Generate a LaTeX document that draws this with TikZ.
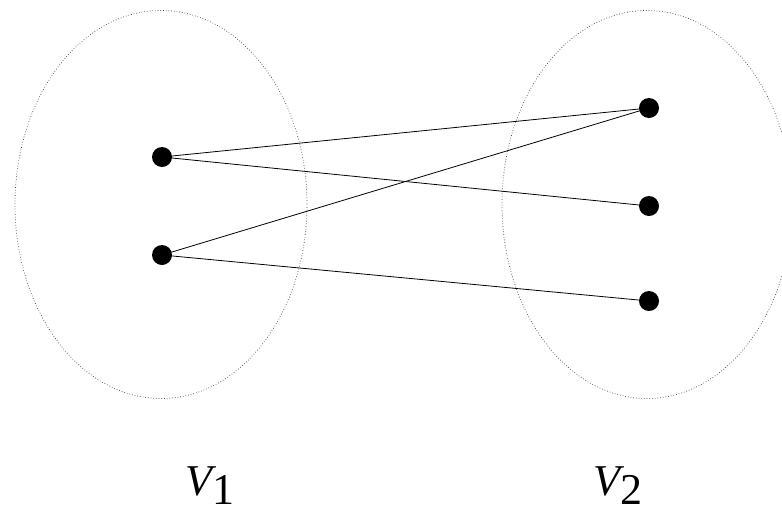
\documentclass[tikz,border=0pt]{standalone}
\usepackage{fontspec}
\newfontfamily\tms{Liberation Serif}
\newfontfamily\tmsit{Liberation Serif Italic}
\begin{document}
\begin{tikzpicture}[x=1pt,y=-1pt,
  vdot/.style={circle,fill=black,draw=none,inner sep=0pt,minimum size=20pt},
  setell/.style={draw=black!75,dotted,line width=0.7pt},
  edge/.style={draw=black,line width=0.8pt},
  lab/.style={anchor=base west,inner sep=0pt,font=\fontsize{44}{50}\selectfont}]
\useasboundingbox (0,0) rectangle (782,512);
\clip (0,0) rectangle (782,512);
\draw[setell] (161,204.5) ellipse [x radius=146, y radius=194];
\draw[setell] (647,204.5) ellipse [x radius=145, y radius=194];
\node[vdot] (a1) at (162,157) {};
\node[vdot] (a2) at (162,255) {};
\node[vdot] (b1) at (649,108) {};
\node[vdot] (b2) at (649,206) {};
\node[vdot] (b3) at (649,301) {};
\draw[edge] (a1.center) -- (b1.center);
\draw[edge] (a1.center) -- (b2.center);
\draw[edge] (a2.center) -- (b1.center);
\draw[edge] (a2.center) -- (b3.center);
\node[lab] (l1) at (185,495) {{\tmsit V}\raisebox{-9pt}{\tms 1}};
\node[lab] (l2) at (593,495) {{\tmsit V}\raisebox{-9pt}{\tms 2}};
\end{tikzpicture}
\end{document}
